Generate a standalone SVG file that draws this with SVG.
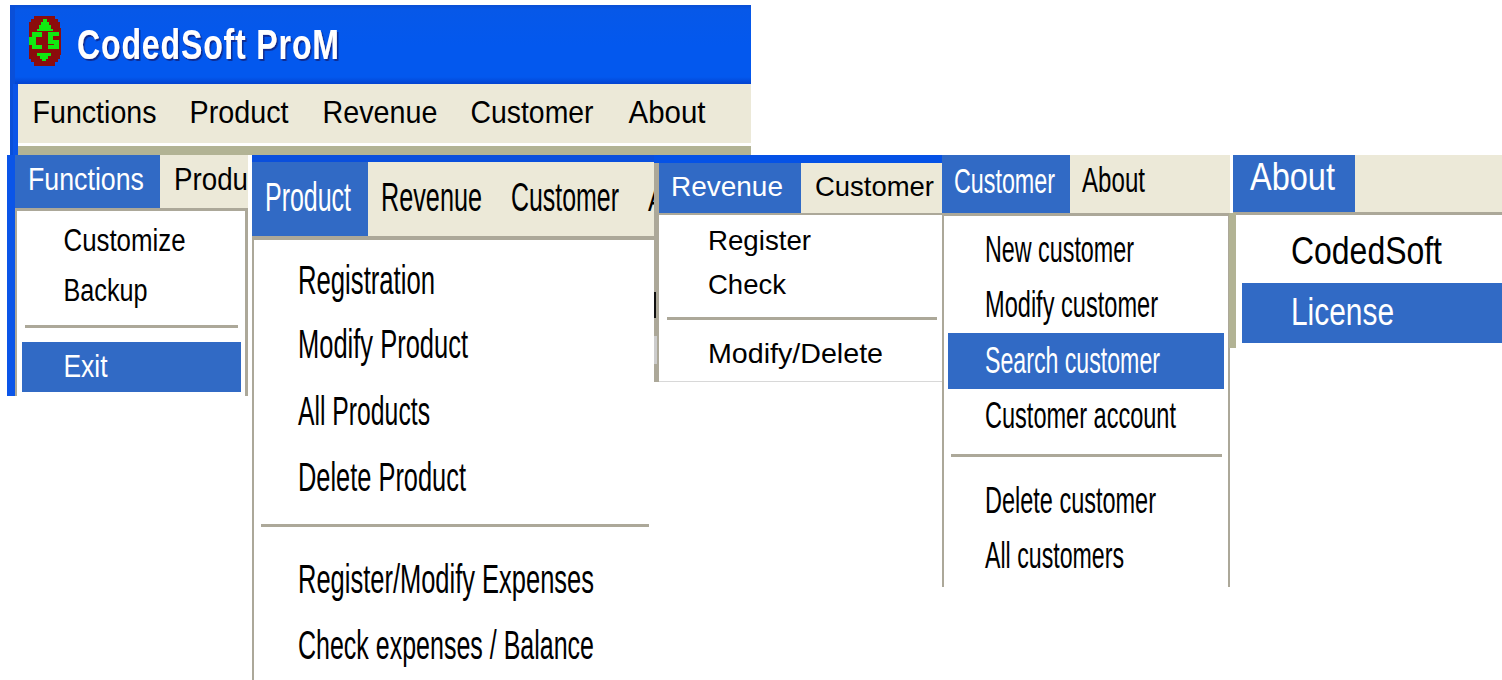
<svg xmlns="http://www.w3.org/2000/svg" width="1502" height="680" viewBox="0 0 1502 680">
<defs>
<linearGradient id="tb" x1="0" y1="0" x2="0" y2="1"><stop offset="0" stop-color="#0a4fd4"/><stop offset=".06" stop-color="#0758e8"/><stop offset=".5" stop-color="#0358ee"/><stop offset=".9" stop-color="#0358ee"/><stop offset="1" stop-color="#0340cc"/></linearGradient>
<filter id="sh" x="-5%" y="-10%" width="110%" height="125%"><feDropShadow dx="1.5" dy="1.5" stdDeviation="0" flood-color="#0a2a90"/></filter>
<clipPath id="clipA"><rect x="640" y="160" width="14" height="70"/></clipPath>
</defs>
<style>
text{font-family:"Liberation Sans",Arial,sans-serif;fill:#000}
.w{fill:#fff}.b{fill:#316ac5}.m{fill:#ece9d8}.g{fill:#aca899}
.t{font-size:28.5px}.f{font-size:26.5px}.p{font-size:25px}.r{font-size:28px}.c{font-size:23.5px}.a{font-size:32.5px}
</style>
<rect width="1502" height="680" fill="#fff"/>
<g id="main-window">
<rect x="10" y="5" width="741" height="80" fill="url(#tb)"/>
<rect x="10" y="5" width="5" height="150" fill="#0a4fd8"/>
<rect x="13" y="84" width="5" height="71" fill="#0b55e8"/>
<rect x="18" y="84" width="733" height="59" class="m"/>
<rect x="18" y="143" width="733" height="3" fill="#fff"/>
<rect x="18" y="146" width="733" height="9" fill="#b2b394"/>
<path d="M34 16h21v3h3v3h2v6h1v27h-1v4h-2v3h-3v4h-21v-4h-3v-3h-2v-4h-0v-27h0v-6h2v-3h3z" fill="#8b0c0c"/>
<path d="M43 19h4v3h2v3h2v4h2v2h-16v-2h2v-4h2v-3h2zM32 32h10v5h-6v8h6v4h-10v-4h-3v-8h3zM48 32h11v4h-6v4h6v9h-11v-4h6v-1h-6z" fill="#10e810"/>
<path d="M37 53h14v3h-3v3h-2v2h-4v-2h-2v-3h-3z" fill="#10e810"/>
<text transform="translate(77 59) scale(1 1.3)" font-size="32" font-weight="700" class="w" textLength="262" filter="url(#sh)">CodedSoft ProM</text>
<text transform="translate(32.5 123) scale(1 1.12)" class="t" textLength="124" lengthAdjust="spacingAndGlyphs">Functions</text>
<text transform="translate(189.5 123) scale(1 1.12)" class="t" textLength="99" lengthAdjust="spacingAndGlyphs">Product</text>
<text transform="translate(322.5 123) scale(1 1.12)" class="t" textLength="115" lengthAdjust="spacingAndGlyphs">Revenue</text>
<text transform="translate(470.5 123) scale(1 1.12)" class="t" textLength="123" lengthAdjust="spacingAndGlyphs">Customer</text>
<text transform="translate(628.5 123) scale(1 1.12)" class="t" textLength="77" lengthAdjust="spacingAndGlyphs">About</text>
</g>
<g id="functions-menu">
<rect x="7" y="155" width="241" height="241" fill="#fff"/>
<rect x="7" y="155" width="8" height="241" fill="#0b55e8"/>
<rect x="15" y="155" width="233" height="53" class="m"/>
<rect x="15" y="155" width="145" height="53" class="b"/>
<rect x="15" y="208" width="233" height="3" class="g"/>
<rect x="15" y="208" width="2" height="188" class="g"/>
<rect x="245" y="208" width="3" height="188" class="g"/>
<text transform="translate(28 190) scale(1 1.2)" class="f w" textLength="116" lengthAdjust="spacingAndGlyphs">Functions</text>
<text transform="translate(174 190) scale(1 1.2)" class="f" textLength="74" lengthAdjust="spacingAndGlyphs">Produ</text>
<text transform="translate(63.5 251) scale(1 1.2)" class="f" textLength="122" lengthAdjust="spacingAndGlyphs">Customize</text>
<text transform="translate(63.5 301) scale(1 1.2)" class="f" textLength="84" lengthAdjust="spacingAndGlyphs">Backup</text>
<rect x="25" y="325" width="213" height="3" class="g"/>
<rect x="22" y="342" width="219" height="50" class="b"/>
<text transform="translate(63.5 377) scale(1 1.2)" class="f w" textLength="44" lengthAdjust="spacingAndGlyphs">Exit</text>
</g>
<g id="product-menu">
<rect x="252" y="155" width="404" height="525" fill="#fff"/>
<rect x="252" y="155" width="404" height="7" fill="#0a4fdc"/>
<rect x="252" y="162" width="404" height="74" class="m"/>
<rect x="252" y="162" width="116" height="74" class="b"/>
<rect x="252" y="236" width="404" height="4" class="g"/>
<rect x="252" y="236" width="2" height="444" class="g"/>
<text transform="translate(265 211) scale(1 1.64)" class="p w" textLength="86" lengthAdjust="spacingAndGlyphs">Product</text>
<text transform="translate(381 211) scale(1 1.64)" class="p" textLength="101" lengthAdjust="spacingAndGlyphs">Revenue</text>
<text transform="translate(511 211) scale(1 1.64)" class="p" textLength="108" lengthAdjust="spacingAndGlyphs">Customer</text>
<g clip-path="url(#clipA)"><text transform="translate(648 211) scale(1 1.3)" class="p">A</text></g>
<text transform="translate(298 294) scale(1 1.64)" class="p" textLength="137" lengthAdjust="spacingAndGlyphs">Registration</text>
<text transform="translate(298 358) scale(1 1.64)" class="p" textLength="170" lengthAdjust="spacingAndGlyphs">Modify Product</text>
<text transform="translate(298 425) scale(1 1.64)" class="p" textLength="132" lengthAdjust="spacingAndGlyphs">All Products</text>
<text transform="translate(298 491) scale(1 1.64)" class="p" textLength="168" lengthAdjust="spacingAndGlyphs">Delete Product</text>
<rect x="261" y="524" width="388" height="3" class="g"/>
<text transform="translate(298 593) scale(1 1.64)" class="p" textLength="296" lengthAdjust="spacingAndGlyphs">Register/Modify Expenses</text>
<text transform="translate(298 659) scale(1 1.64)" class="p" textLength="296" lengthAdjust="spacingAndGlyphs">Check expenses / Balance</text>
</g>
<g id="revenue-menu">
<rect x="654" y="155" width="288" height="227" fill="#fff"/>
<rect x="654" y="155" width="288" height="8" fill="#0552e6"/>
<rect x="657" y="163" width="285" height="50" class="m"/>
<rect x="657" y="163" width="144" height="50" class="b"/>
<rect x="657" y="213" width="285" height="2" class="g"/>
<rect x="654" y="163" width="5" height="219" class="g"/>
<rect x="654" y="292" width="2" height="26" fill="#111"/>
<rect x="654" y="336" width="3" height="28" fill="#ccc"/>
<rect x="659" y="381" width="283" height="1" fill="#d8d8d8"/>
<text x="671" y="196" class="r w" textLength="112" lengthAdjust="spacingAndGlyphs">Revenue</text>
<text x="815" y="196" class="r" textLength="119" lengthAdjust="spacingAndGlyphs">Customer</text>
<text x="708" y="250" class="r" textLength="103" lengthAdjust="spacingAndGlyphs">Register</text>
<text x="708" y="294" class="r" textLength="78" lengthAdjust="spacingAndGlyphs">Check</text>
<rect x="667" y="317" width="270" height="3" class="g"/>
<text x="708" y="363" class="r" textLength="175" lengthAdjust="spacingAndGlyphs">Modify/Delete</text>
</g>
<g id="customer-menu">
<rect x="942" y="155" width="288" height="432" fill="#fff"/>
<rect x="942" y="155" width="291" height="58" class="m"/>
<rect x="942" y="155" width="128" height="58" class="b"/>
<rect x="942" y="213" width="288" height="3" class="g"/>
<rect x="942" y="213" width="2" height="374" class="g"/>
<rect x="1228" y="213" width="2" height="374" class="g"/>
<text transform="translate(954 193) scale(1 1.5)" class="c w" textLength="101" lengthAdjust="spacingAndGlyphs">Customer</text>
<text transform="translate(1082 192) scale(1 1.5)" class="c" textLength="63" lengthAdjust="spacingAndGlyphs">About</text>
<text transform="translate(985 262) scale(1 1.55)" class="c" textLength="149" lengthAdjust="spacingAndGlyphs">New customer</text>
<text transform="translate(985 317) scale(1 1.55)" class="c" textLength="173" lengthAdjust="spacingAndGlyphs">Modify customer</text>
<rect x="948" y="333" width="276" height="56" class="b"/>
<text transform="translate(985 373) scale(1 1.55)" class="c w" textLength="175" lengthAdjust="spacingAndGlyphs">Search customer</text>
<text transform="translate(985 428) scale(1 1.55)" class="c" textLength="191" lengthAdjust="spacingAndGlyphs">Customer account</text>
<rect x="951" y="454" width="271" height="3" class="g"/>
<text transform="translate(985 513) scale(1 1.55)" class="c" textLength="171" lengthAdjust="spacingAndGlyphs">Delete customer</text>
<text transform="translate(985 568) scale(1 1.55)" class="c" textLength="139" lengthAdjust="spacingAndGlyphs">All customers</text>
</g>
<g id="about-menu">
<rect x="1230" y="155" width="272" height="193" fill="#fff"/>
<rect x="1233" y="155" width="269" height="57" class="m"/>
<rect x="1233" y="155" width="122" height="57" class="b"/>
<rect x="1233" y="212" width="269" height="3" class="g"/>
<rect x="1229" y="213" width="7" height="135" fill="#b2b394"/>
<text transform="translate(1250 190) scale(1 1.2)" class="a w" textLength="85" lengthAdjust="spacingAndGlyphs">About</text>
<text transform="translate(1291 264) scale(1 1.2)" class="a" textLength="151" lengthAdjust="spacingAndGlyphs">CodedSoft</text>
<rect x="1242" y="283" width="260" height="60" class="b"/>
<text transform="translate(1291 325) scale(1 1.2)" class="a w" textLength="103" lengthAdjust="spacingAndGlyphs">License</text>
</g>
</svg>
